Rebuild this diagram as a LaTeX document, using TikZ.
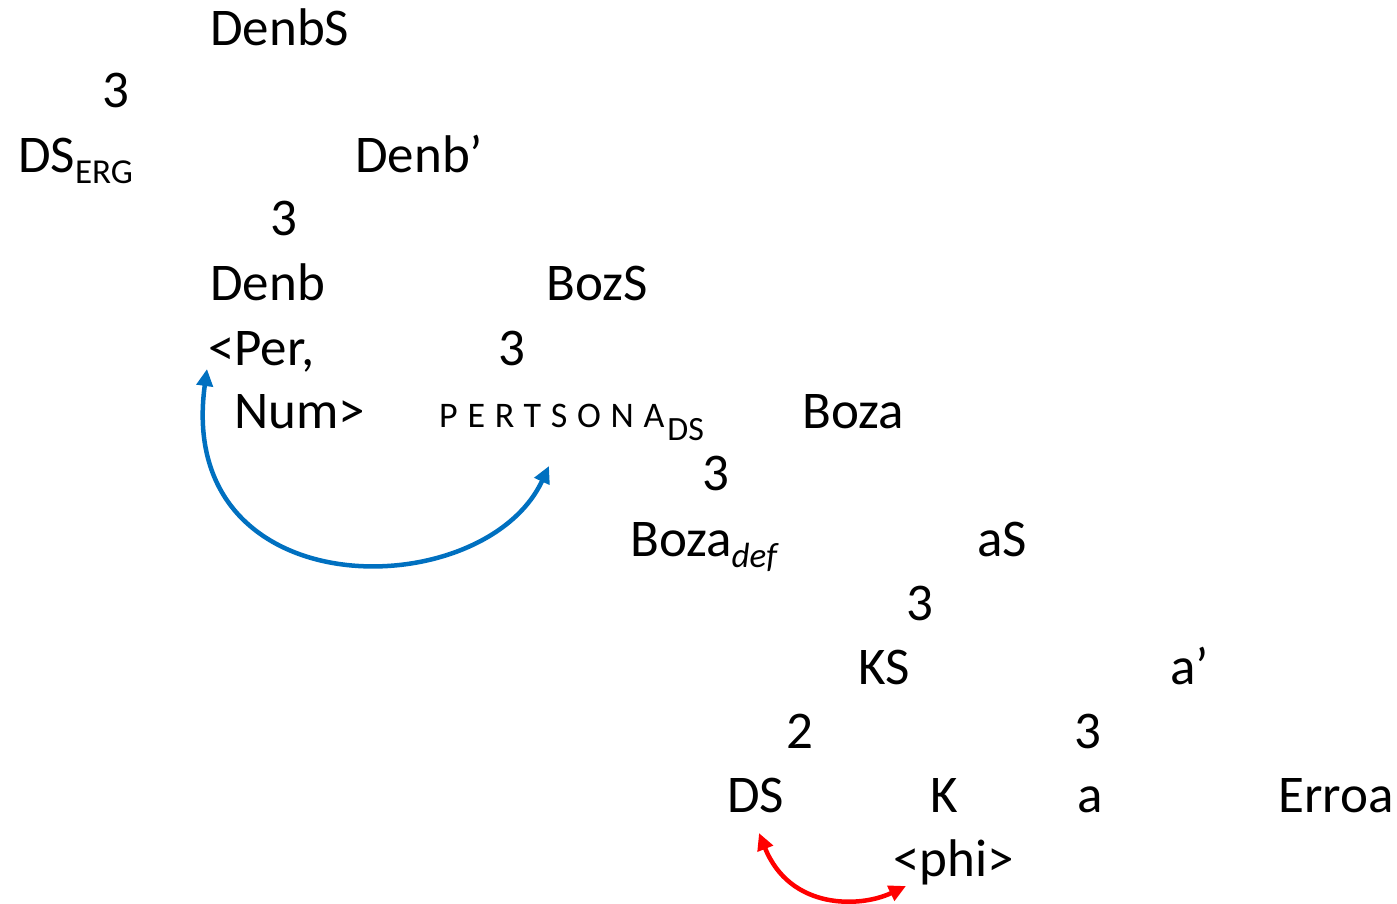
\documentclass[tikz,border=0pt]{standalone}
\usepackage{fontspec}
\setmainfont{Carlito}
\newfontfamily\spacedfont[LetterSpace=27]{Carlito}
\usetikzlibrary{arrows.meta}
\definecolor{arrblue}{RGB}{0,112,192}
\definecolor{arrred}{RGB}{255,0,0}
\newcommand{\subtxt}[1]{\raisebox{-11pt}{\fontsize{35}{35}\selectfont #1}}
\tikzset{
  lbl/.style={anchor=base west, inner sep=0pt, font=\fontsize{53}{60}\selectfont},
  movearrow/.style={line width=4.5pt, {Triangle[length=17pt,width=16pt]}-{Triangle[length=17pt,width=16pt]}}
}
\begin{document}
\begin{tikzpicture}[x=1pt,y=-1pt]
\useasboundingbox (0,0) rectangle (1397,904);
\node[lbl] (denbS) at (210,46) {DenbS};
\node[lbl] (t1) at (102,108) {3};
\node[lbl] (dserg) at (18,173) {DS\subtxt{ERG}};
\node[lbl] (denbp) at (355,173) {Denb’};
\node[lbl] (t2) at (270,236) {3};
\node[lbl] (denb) at (210,300) {Denb};
\node[lbl] (bozS) at (546,300) {BozS};
\node[lbl] (per) at (208,365) {<Per,};
\node[lbl] (t3) at (498,365) {3};
\node[lbl] (num) at (234,428) {Num>};
\node[lbl] (pers) at (439,427) {{\spacedfont\fontsize{36}{36}\selectfont PERTSONA}\hspace{3pt}\raisebox{-13pt}{\fontsize{34}{34}\selectfont DS}};
\node[lbl] (boza) at (802,428) {Boza};
\node[lbl] (t4) at (702,490) {3};
\node[lbl] (bozadef) at (630,556) {Boza\subtxt{\itshape def}};
\node[lbl] (aS) at (977,556) {aS};
\node[lbl] (t5) at (906,620) {3};
\node[lbl] (KS) at (858,684) {KS};
\node[lbl] (ap) at (1170,684) {a’};
\node[lbl] (t6) at (786,748) {2};
\node[lbl] (t7) at (1074,748) {3};
\node[lbl] (ds) at (727,812) {DS};
\node[lbl] (K) at (930,812) {K};
\node[lbl] (a) at (1077,812) {a};
\node[lbl] (erroa) at (1278,812) {Erroa};
\node[lbl] (phi) at (893,876) {<phi>};
\coordinate (b1) at (549,466);
\coordinate (b2) at (207,369);
\coordinate (r1) at (759,833);
\coordinate (r2) at (906,886);
\draw[movearrow, arrblue] (b1) .. controls (484,606) and (174,610) .. (b2);
\draw[movearrow, arrred] (r1) .. controls (790,910) and (860,908) .. (r2);
\end{tikzpicture}
\end{document}
